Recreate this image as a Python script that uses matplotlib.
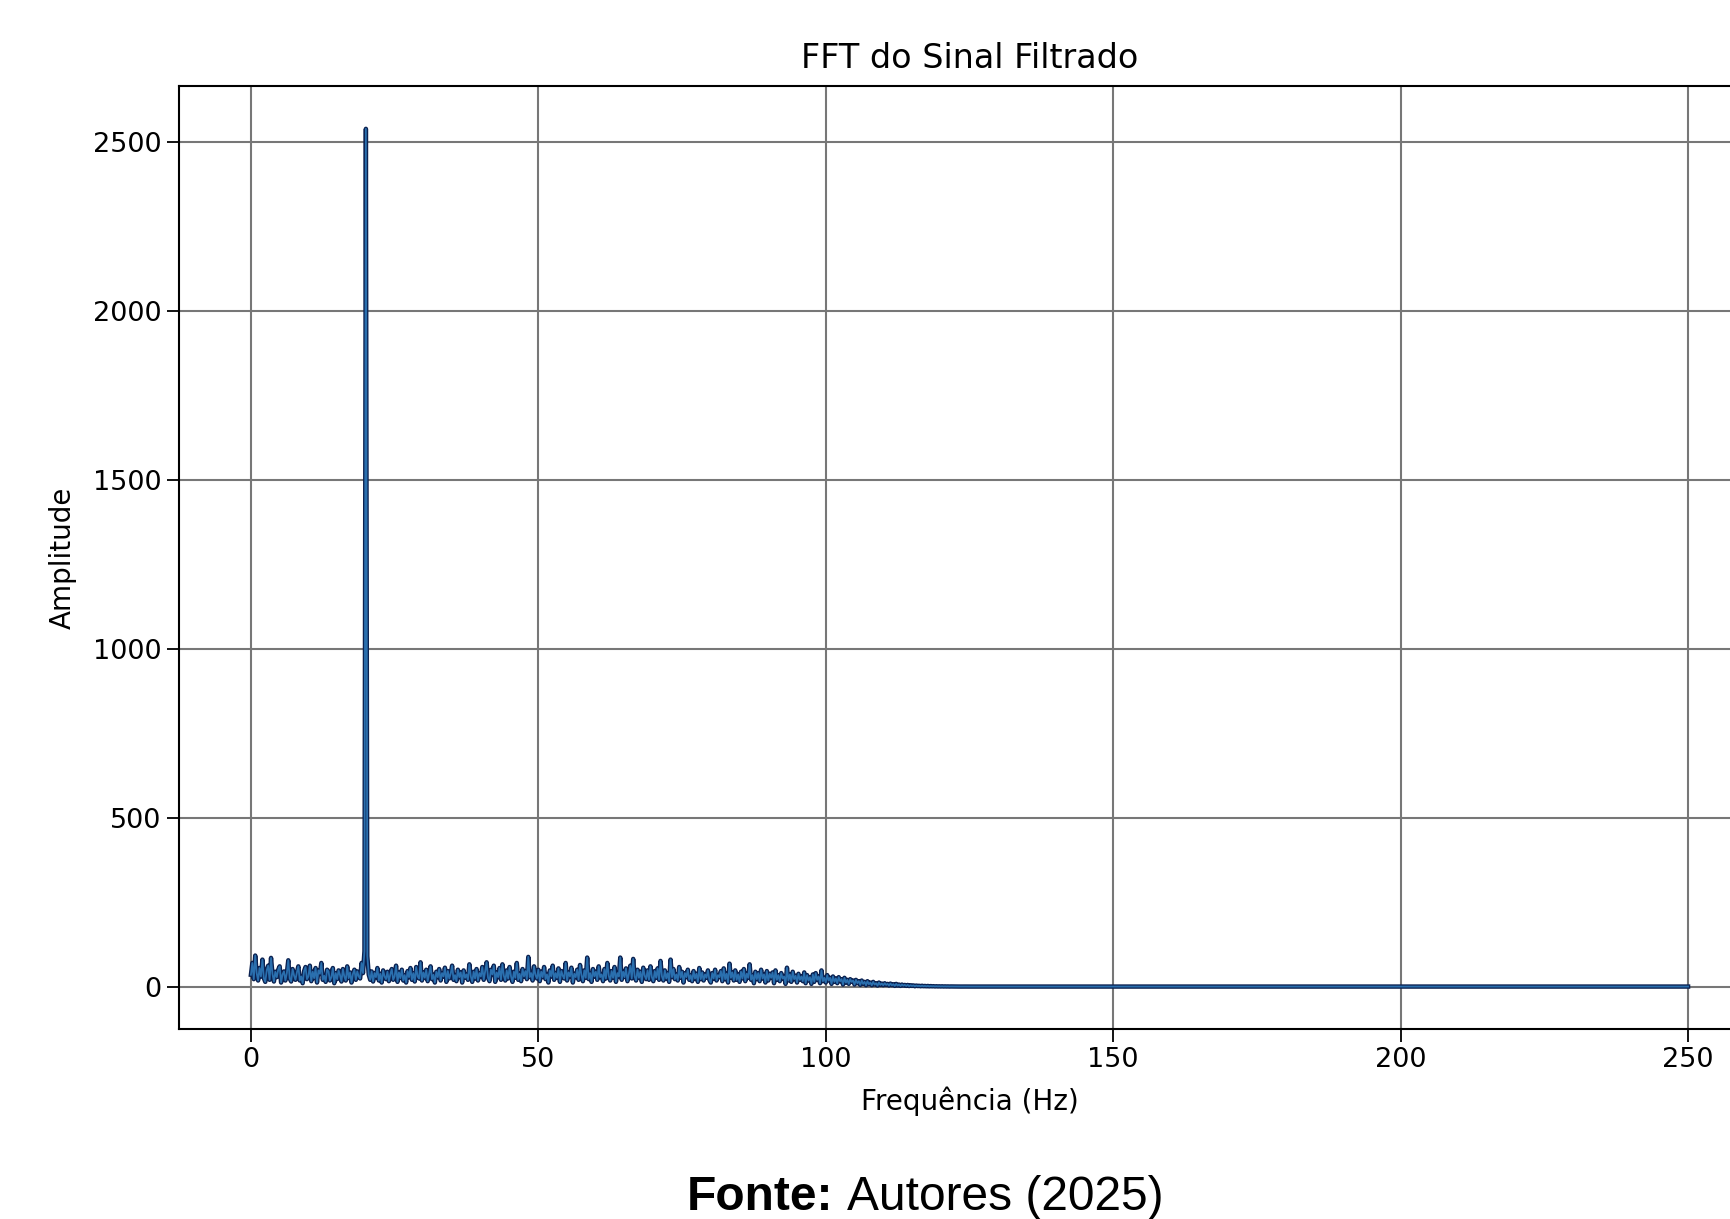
import numpy as np
import matplotlib.pyplot as plt

# amplitude spectrum, 0.25 Hz bins from 0 to 125 Hz
amp_0_10 = [35, 70, 22, 92, 40, 18, 55, 30, 80, 25, 14, 48, 62, 20, 85, 38, 15, 44, 28, 50,
            60, 12, 36, 45, 18, 40, 78, 24, 15, 52, 33, 20, 42, 60, 18, 30, 10, 46, 58, 22]
amp_10_20 = [30, 62, 16, 44, 25, 55, 12, 48, 38, 70, 20, 32, 14, 50, 45, 18, 28, 55, 10, 40,
             22, 48, 34, 15, 52, 30, 18, 60, 25, 42, 12, 38, 50, 20, 45, 30, 24, 70, 40, 105]
amp_20_30 = [2540, 90, 35, 20, 45, 15, 40, 28, 55, 18, 38, 12, 48, 30, 22, 44, 16, 36, 52, 20,
             30, 62, 14, 42, 25, 50, 18, 34, 12, 46, 28, 55, 20, 40, 15, 58, 30, 24, 72, 18]
amp_30_40 = [42, 26, 50, 16, 38, 60, 22, 35, 12, 44, 28, 52, 18, 40, 30, 56, 14, 46, 24, 38,
             62, 20, 34, 16, 50, 28, 42, 12, 48, 26, 36, 20, 66, 30, 14, 44, 24, 52, 18, 40]
amp_40_50 = [30, 58, 20, 45, 72, 26, 16, 50, 36, 62, 14, 42, 28, 55, 20, 66, 32, 18, 48, 24,
             58, 30, 14, 44, 26, 70, 20, 38, 16, 52, 30, 46, 22, 88, 28, 40, 18, 60, 34, 24]
amp_50_60 = [50, 16, 44, 28, 58, 22, 36, 12, 48, 30, 62, 20, 40, 26, 54, 14, 46, 32, 24, 70,
             18, 42, 30, 56, 12, 38, 28, 50, 20, 64, 34, 16, 48, 26, 86, 22, 40, 14, 52, 30]
amp_60_70 = [44, 20, 60, 28, 36, 16, 52, 24, 70, 32, 18, 46, 26, 58, 14, 40, 30, 86, 20, 44,
             28, 54, 16, 38, 62, 24, 82, 30, 18, 50, 26, 44, 14, 56, 32, 22, 48, 20, 60, 28]
amp_70_80 = [16, 46, 26, 54, 20, 76, 30, 18, 48, 24, 40, 14, 80, 28, 52, 22, 36, 18, 58, 26,
             44, 12, 40, 28, 50, 20, 34, 16, 46, 24, 38, 14, 55, 22, 42, 18, 36, 26, 48, 20]
amp_80_90 = [12, 40, 24, 50, 18, 34, 28, 46, 16, 54, 22, 38, 12, 68, 26, 42, 18, 48, 20, 36,
             14, 44, 24, 52, 16, 38, 26, 66, 20, 34, 10, 44, 22, 40, 16, 50, 24, 36, 12, 46]
amp_90_100 = [18, 38, 26, 42, 10, 48, 20, 34, 16, 40, 24, 30, 8, 56, 18, 36, 14, 44, 22, 32,
              12, 38, 20, 30, 16, 42, 10, 34, 18, 28, 8, 36, 14, 40, 20, 30, 10, 48, 16, 26]
amp_100_110 = [12, 34, 18, 26, 8, 30, 14, 24, 10, 28, 16, 22, 6, 26, 12, 20, 8, 22, 14, 18,
               6, 20, 10, 16, 5, 18, 8, 14, 4, 16, 7, 12, 4, 14, 6, 10, 3, 12, 5, 9]
amp_110_120 = [4, 10, 5, 8, 3, 9, 4, 7, 2, 8, 3, 6, 2, 6, 3, 5, 2, 5, 1.5, 4,
               2, 3.5, 1, 3, 1.5, 2.5, 1, 2.5, 1, 2, 0.8, 2, 0.6, 1.5, 0.8, 1.2, 0.5, 1, 0.5, 0.8]
amp_120_125 = [0.4, 0.8, 0.3, 0.6, 0.3, 0.5, 0.2, 0.4, 0.2, 0.3,
               0.2, 0.3, 0.1, 0.2, 0.1, 0.2, 0.1, 0.15, 0.1, 0.1, 0.1]

# flat tail up to Nyquist
tail_freq = [150, 200, 250]
tail_amp = [0.1, 0.1, 0.1]

amp_main = (amp_0_10 + amp_10_20 + amp_20_30 + amp_30_40 + amp_40_50 + amp_50_60
            + amp_60_70 + amp_70_80 + amp_80_90 + amp_90_100 + amp_100_110
            + amp_110_120 + amp_120_125)
freq = list(np.arange(len(amp_main)) * 0.25) + tail_freq
amp = amp_main + tail_amp

plt.rcParams['font.family'] = 'DejaVu Sans'

fig = plt.figure(figsize=(17.30, 12.19), dpi=100)
ax = fig.add_axes([0.1035, 0.1555, 0.9138, 0.774])

ax.plot(freq, amp, color='#0b2150', lw=3.2)
ax.plot(freq, amp, color='#2a6fae', lw=1.3)

ax.set_xticks([0, 50, 100, 150, 200, 250])
ax.set_yticks([0, 500, 1000, 1500, 2000, 2500])
ax.tick_params(labelsize=19.5, length=9, width=1.3)
ax.grid(True, color='#777777', lw=1.5)
for s in ax.spines.values():
    s.set_linewidth(1.5)

ax.set_title('FFT do Sinal Filtrado', fontsize=24, pad=13)
ax.set_xlabel('Frequência (Hz)', fontsize=20, labelpad=10)
ax.set_ylabel('Amplitude', fontsize=20, labelpad=12)

fig.text(0.4815, 0.0075, 'Fonte:', fontsize=34.5, fontweight='bold',
         family='Liberation Sans', ha='right', va='baseline')
fig.text(0.4897, 0.0075, 'Autores (2025)', fontsize=34.5,
         family='Liberation Sans', ha='left', va='baseline')

fig.savefig('out.png', dpi=100)
